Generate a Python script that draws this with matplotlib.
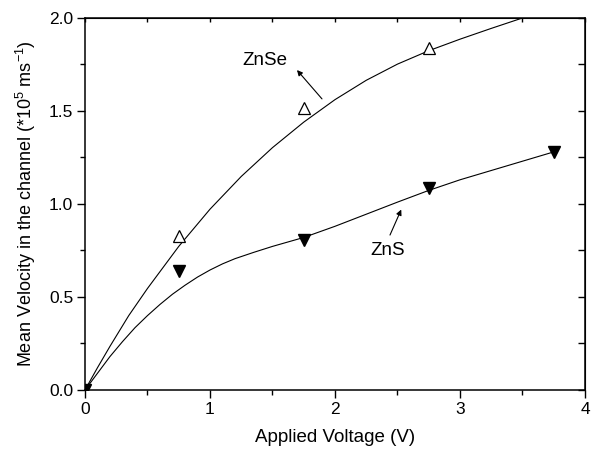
import matplotlib
matplotlib.use("Agg")
import matplotlib.pyplot as plt
from matplotlib.ticker import MultipleLocator

plt.rcParams['font.family'] = ['Liberation Sans', 'DejaVu Sans']
plt.rcParams['mathtext.fontset'] = 'custom'
plt.rcParams['mathtext.rm'] = 'Liberation Sans'

# measured points
znse_x = [0, 0.75, 1.75, 2.75]
znse_y = [0, 0.83, 1.515, 1.84]
zns_x = [0, 0.75, 1.75, 2.75, 3.75]
zns_y = [0, 0.64, 0.805, 1.085, 1.28]

# fitted curves
znse_fit_x = [0, 0.1, 0.2, 0.35, 0.5, 0.75, 1.0, 1.25, 1.5, 1.75, 2.0, 2.25, 2.5, 2.75, 3.0, 3.25, 3.5]
znse_fit_y = [0, 0.12, 0.235, 0.40, 0.546, 0.772, 0.972, 1.148, 1.303, 1.44, 1.561, 1.665, 1.752, 1.824, 1.886, 1.944, 2.0]
zns_fit_x = [0, 0.1, 0.2, 0.3, 0.4, 0.5, 0.6, 0.7, 0.8, 0.9, 1.0, 1.1, 1.2, 1.35, 1.5, 1.75, 2.0, 2.25, 2.5, 2.75, 3.0, 3.25, 3.5, 3.75]
zns_fit_y = [0, 0.09, 0.18, 0.26, 0.335, 0.40, 0.46, 0.515, 0.563, 0.607, 0.645, 0.678, 0.706, 0.740, 0.772, 0.82, 0.88, 0.945, 1.01, 1.073, 1.13, 1.18, 1.23, 1.28]

xticks = [0, 1, 2, 3, 4]
xticklabels = ['0', '1', '2', '3', '4']
yticks = [0, 0.5, 1.0, 1.5, 2.0]
yticklabels = ['0.0', '0.5', '1.0', '1.5', '2.0']

fig = plt.figure(figsize=(5.99, 4.53), dpi=100)
ax = fig.add_axes([0.1419, 0.1391, 0.8347, 0.8212])

ax.plot(znse_fit_x, znse_fit_y, color='black', lw=0.8)
ax.plot(zns_fit_x, zns_fit_y, color='black', lw=0.8)
ax.plot(znse_x, znse_y, linestyle='none', marker='^', ms=9, mfc='white', mec='black', mew=0.9)
ax.plot(zns_x, zns_y, linestyle='none', marker='v', ms=9, mfc='black', mec='black')

ax.set_xlim(0, 4)
ax.set_ylim(0, 2.0)
ax.xaxis.set_minor_locator(MultipleLocator(0.5))
ax.yaxis.set_minor_locator(MultipleLocator(0.25))
ax.set_xticks(xticks)
ax.set_xticklabels(xticklabels)
ax.set_yticks(yticks)
ax.set_yticklabels(yticklabels)

for s in ax.spines.values():
    s.set_linewidth(1.1)
ax.tick_params(which='major', direction='out', length=5.5, width=1.0, labelsize=12.5, pad=3)
ax.tick_params(which='minor', direction='out', length=3.5, width=1.0)
ax.tick_params(which='both', top=False, right=False)
# inward ticks on right and top
ax2 = ax.secondary_yaxis('right')
ax2.yaxis.set_major_locator(MultipleLocator(0.5))
ax2.yaxis.set_minor_locator(MultipleLocator(0.25))
ax2.tick_params(which='both', direction='in', length=5, width=1.0, labelright=False)
ax3 = ax.secondary_xaxis('top')
ax3.xaxis.set_major_locator(MultipleLocator(1))
ax3.xaxis.set_minor_locator(MultipleLocator(0.5))
ax3.tick_params(which='both', direction='in', length=3, width=1.0, labeltop=False)

ax.set_xlabel('Applied Voltage (V)', fontsize=13.5, labelpad=9)
ax.set_ylabel('Mean Velocity in the channel (*10$^{5}$ ms$^{-1}$)', fontsize=13, labelpad=8)

arrow_kw = dict(arrowstyle='-|>', lw=0.8, color='black', mutation_scale=8, shrinkA=0, shrinkB=0)
ax.text(1.44, 1.77, 'ZnSe', fontsize=13.5, ha='center', va='center')
ax.annotate('', xy=(1.696, 1.72), xytext=(1.896, 1.565), arrowprops=arrow_kw)

ax.text(2.42, 0.75, 'ZnS', fontsize=13.5, ha='center', va='center')
ax.annotate('', xy=(2.53, 0.97), xytext=(2.44, 0.833), arrowprops=arrow_kw)

fig.savefig('out.png', dpi=100)
